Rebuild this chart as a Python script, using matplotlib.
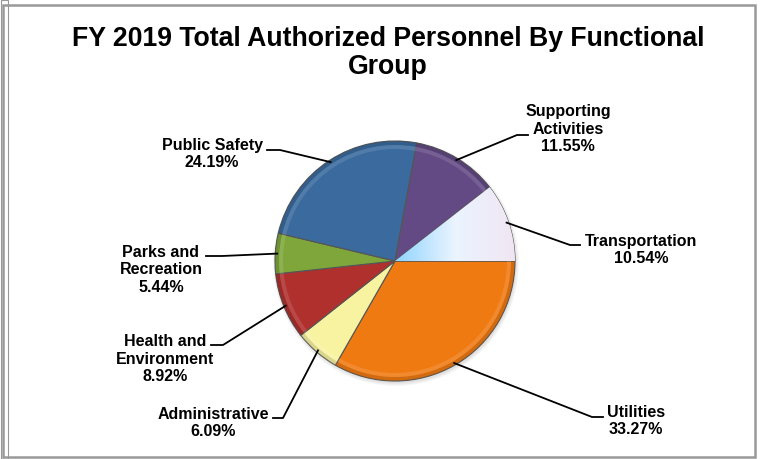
import numpy as np
import matplotlib
matplotlib.use("Agg")
import matplotlib.pyplot as plt
from matplotlib.patches import Rectangle, Wedge
import matplotlib.colors as mcolors

plt.rcParams['font.family'] = ['Liberation Sans', 'DejaVu Sans']

# personnel share by functional group (percent)
groups = ["Utilities", "Administrative", "Health and\nEnvironment", "Parks and\nRecreation",
          "Public Safety", "Supporting\nActivities", "Transportation"]
shares = [33.27, 6.09, 8.92, 5.44, 24.19, 11.55, 10.54]
colors = ["#F07A12", "#F8F3A0", "#B0302E", "#7EA63A", "#3A6A9E", "#634A85", "#C8E6FA"]

# label centres, leader-line bends and leader-line ends (pixels from top-left)
label_pos = [(636, 421), (213, 423), (165, 359), (161, 270), (212, 154), (568, 129), (641, 250)]
bend = [(592, 417), (283, 418), (223, 345), (222, 256), (280, 150), (517, 135), (570, 245)]
tip = [(603, 417), (273, 418), (211, 345), (206, 256), (267, 150), (528, 135), (580, 245)]

W, H = 762, 459
fig = plt.figure(figsize=(W / 100, H / 100), dpi=100)
ax = fig.add_axes([0, 0, 1, 1])

cx, cy, r = 395, H - 261, 120

# faint shadow under the pie
for k in range(4):
    ax.add_patch(plt.Circle((cx + 1, cy - 2), r + 3 - k, color="black", alpha=0.03, lw=0))

edge_cols = [mcolors.to_hex(np.array(mcolors.to_rgb(c)) * 0.65) for c in colors]
wedges, _ = ax.pie(shares, colors=colors, startangle=0, counterclock=False,
                   center=(cx, cy), radius=r, frame=True,
                   wedgeprops=dict(linewidth=0.8, edgecolor="#555555"))
ax.set_xlim(0, W)
ax.set_ylim(0, H)
ax.set_aspect("equal")
ax.axis("off")

# bevel: darker rim on each wedge plus a lighter inner highlight
for w, ec in zip(wedges, edge_cols):
    ax.add_patch(Wedge((cx, cy), r, w.theta1, w.theta2, width=4,
                       facecolor=ec, alpha=0.35, lw=0))
    ax.add_patch(Wedge((cx, cy), r - 4, w.theta1, w.theta2, width=4,
                       facecolor="white", alpha=0.12, lw=0))

# Transportation slice gets a left-to-right gradient
grad = np.linspace(0, 1, 256).reshape(1, -1)
cmap = mcolors.LinearSegmentedColormap.from_list("tr", ["#8FD4FF", "#EAF4FF", "#F1E6F3"])
im = ax.imshow(grad, cmap=cmap, extent=(cx, cx + r, cy, cy + r * 0.7), aspect="auto", zorder=1.5)
im.set_clip_path(wedges[-1])

for w, s, name, lp, b, t in zip(wedges, shares, groups, label_pos, bend, tip):
    ang = np.deg2rad((w.theta1 + w.theta2) / 2)
    px, py = cx + (r - 2) * np.cos(ang), cy + (r - 2) * np.sin(ang)
    ax.plot([px, b[0], t[0]], [py, H - b[1], H - t[1]], color="black", lw=1.3, zorder=3)
    ax.text(lp[0], H - lp[1], f"{name}\n{s:.2f}%", ha="center", va="center",
            fontsize=11.5, fontweight="bold", linespacing=1.2, zorder=4)

fig.text(388 / W, 1 - 53 / H, "FY 2019 Total Authorized Personnel By Functional\nGroup",
         ha="center", va="center", fontsize=19.2, fontweight="bold", linespacing=1.15)

# chart frame
fig.patches.append(Rectangle((3 / W, 2 / H), 752 / W, 452 / H, transform=fig.transFigure,
                             fill=False, edgecolor="#999999", lw=1.8))
fig.patches.append(Rectangle((0.5 / W, 0), 0.01, 1, transform=fig.transFigure,
                             fill=False, edgecolor="#999999", lw=0.8))

fig.savefig("out.png", dpi=100)
